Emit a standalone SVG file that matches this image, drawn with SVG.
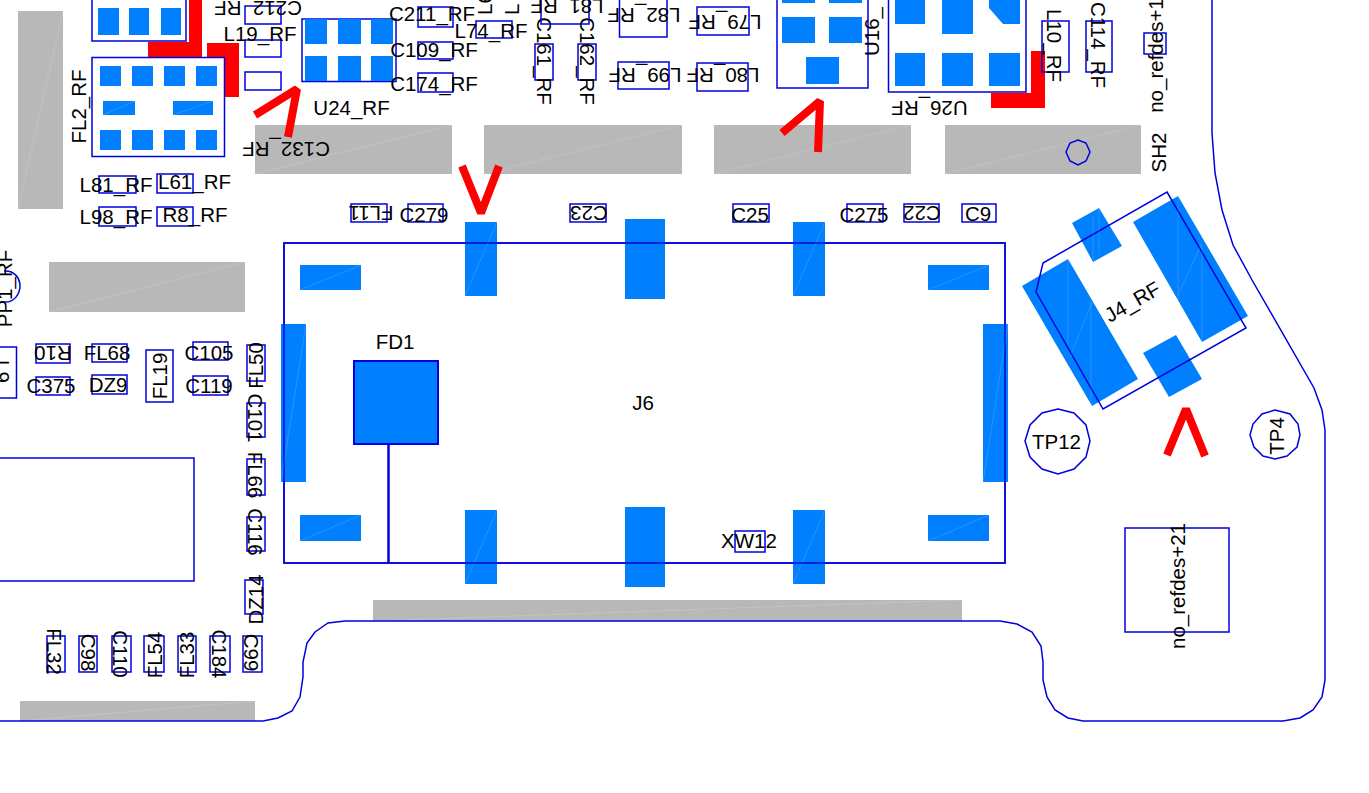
<svg xmlns="http://www.w3.org/2000/svg" width="1369" height="793" viewBox="0 0 1369 793">
<style>
text{font-family:"Liberation Sans",Arial,sans-serif;font-size:20.500px;fill:#000;text-anchor:middle}
.b{fill:none;stroke:#0000e0;stroke-width:1.5}
.p{fill:#0080ff}
.g{fill:#b8b8b8}
.r{fill:none;stroke:#f00;stroke-width:8;stroke-linejoin:bevel}
.s{fill:none;stroke:#fff;stroke-width:.5;opacity:.3}
</style>
<rect width="1369" height="793" fill="#fff"/>
<g id="shields">
<rect class="g" x="18" y="11" width="45" height="198"/><rect class="g" x="255" y="125" width="197" height="49"/><rect class="g" x="484" y="125" width="198" height="49"/><rect class="g" x="714" y="125" width="197" height="49"/><rect class="g" x="945" y="125" width="196" height="49"/><rect class="g" x="49" y="262" width="196" height="50"/><rect class="g" x="373" y="600" width="589" height="21"/><rect class="g" x="20" y="701" width="235" height="20"/>
<path class="s" d="M18 209 63 11M255 174 452 125M484 174 682 125M714 174 911 125M945 174 1141 125M49 312 245 262M373 621 962 600M20 721 255 701"/>
</g>
<g id="connectors">
<path class="b" d="M0 721H263L278 718 292 711 300 697 303 677V662L307 643 315 632 328 623 345 621H1000L1017 624 1032 632 1041 646 1043 662V680L1047 697 1055 710 1068 718 1083 721H1283L1300 718 1313 710 1322 697 1325 680V430L1322 410 1314 388 1252 280 1233 245 1222 210 1215 173 1212 133V0"/>
<path d="M148 42H202V57H148ZM189 0H202V57H189ZM207 43H239V97H225V57H207Z" fill="#f00"/>
<path d="M991 93H1045V108H991ZM1031 51H1045V108H1031Z" fill="#f00"/>
<path class="r" d="M255 115 297 89 288 137"/>
<path class="r" d="M782 133 820 101 818 152"/>
<path class="r" d="M462 166 481 213 499 166"/>
<path class="r" d="M1167 455 1186 409 1205 456"/>
</g>
<g id="J6"><rect class="b" x="284" y="243" width="721" height="320"/>
<rect class="p" x="465" y="222" width="32" height="74"/><rect class="p" x="625" y="219" width="40" height="80"/><rect class="p" x="793" y="222" width="32" height="74"/>
<rect class="p" x="300" y="265" width="61" height="25"/><rect class="p" x="928" y="265" width="61" height="25"/><rect class="p" x="300" y="515" width="61" height="26"/><rect class="p" x="928" y="515" width="61" height="26"/>
<rect class="p" x="281" y="324" width="25" height="158"/><rect class="p" x="983" y="324" width="25" height="158"/>
<rect class="p" x="465" y="510" width="32" height="74"/><rect class="p" x="625" y="507" width="40" height="80"/><rect class="p" x="793" y="510" width="32" height="74"/>
<path class="b" d="M284 243H1005V563H284Z"/>
<path class="s" d="M465 296 497 222M793 296 825 222M300 290 361 265M928 290 989 265M300 541 361 515M928 541 989 515M281 482 306 324M983 482 1008 324M465 584 497 510M793 584 825 510"/>
<text x="643" y="410">J6</text></g>
<g id="FD1"><rect class="p" x="354" y="361" width="84" height="83" stroke="#0000e0" stroke-width="2"/><path d="M388.500 444V563" stroke="#0000e0" stroke-width="2.500" fill="none"/><text x="395" y="349">FD1</text></g>
<g id="XW12"><rect class="b" x="735" y="531" width="30" height="21"/><text x="749" y="548">XW12</text></g>
<g id="U-top-left"><path class="b" d="M92 0V41H186V0"/><rect class="p" x="98" y="8" width="21" height="27"/><rect class="p" x="129" y="8" width="20" height="27"/><rect class="p" x="161" y="8" width="20" height="27"/></g>
<g id="FL2_RF"><rect class="b" x="92" y="57.500" width="132.500" height="99"/>
<rect class="p" x="100" y="66" width="21" height="20"/><rect class="p" x="132" y="66" width="21" height="20"/><rect class="p" x="164" y="66" width="21" height="20"/><rect class="p" x="196" y="66" width="21" height="20"/>
<rect class="p" x="103" y="101" width="32" height="14"/><rect class="p" x="173" y="101" width="40" height="14"/>
<rect class="p" x="100" y="130" width="21" height="20"/><rect class="p" x="132" y="130" width="21" height="20"/><rect class="p" x="164" y="130" width="21" height="20"/><rect class="p" x="196" y="130" width="21" height="20"/>
<path class="s" d="M103 115 135 101M173 115 213 101"/>
<text transform="translate(86 106.500) rotate(-90)">FL2_RF</text></g>
<g id="U24_RF"><rect class="b" x="302" y="19" width="94" height="62.500"/>
<rect class="p" x="305" y="19" width="22" height="25"/><rect class="p" x="338" y="19" width="23" height="25"/><rect class="p" x="371" y="19" width="22" height="25"/><rect class="p" x="305" y="56" width="22" height="25"/><rect class="p" x="338" y="56" width="23" height="25"/><rect class="p" x="371" y="56" width="22" height="25"/>
<text x="351.500" y="115">U24_RF</text></g>
<g id="U16_"><path class="b" d="M777 0V88H868V0"/><rect class="p" x="782" y="0" width="33" height="3"/><rect class="p" x="829" y="0" width="33" height="3"/><rect class="p" x="782" y="17" width="33" height="26"/><rect class="p" x="829" y="17" width="33" height="26"/><rect class="p" x="806" y="57" width="33" height="27"/>
<text transform="translate(879 31.500) rotate(-90)">U16_</text></g>
<g id="U26_RF"><path class="b" d="M888.500 0V92H1026V0"/><rect class="p" x="895" y="0" width="30" height="24"/><rect class="p" x="942" y="0" width="31" height="34"/><path class="p" d="M989 0H1020V24H1003L989 8Z"/><rect class="p" x="895" y="53" width="30" height="33"/><rect class="p" x="942" y="53" width="31" height="33"/><rect class="p" x="989" y="53" width="31" height="33"/>
<text transform="translate(929.500 101) rotate(180)">U26_RF</text></g>
<g id="J4_RF"><path class="p" d="M1022 286 1068 259 1138 379 1092 406ZM1072 223 1099 208 1122 246 1093 262ZM1133 222 1178 196 1248 316 1202 342ZM1143 353 1176 335 1202 379 1169 397Z"/>
<path class="b" d="M1167 192 1246 328 1103 409 1036 292 1043 263Z"/>
<path class="s" d="M1068 259V345M1091 302V406M1070 357 1092 302M1178 196V300M1202 245V342M1178 295 1202 243M1093 216V262M1099 208V255"/>
<text transform="translate(1136 308) rotate(-30)">J4_RF</text></g>
<g id="TP12"><path class="b" d="M1058 409 1074 413 1086 425 1090 441 1086 457 1074 469 1058 474 1042 469 1030 457 1025 441 1030 425 1042 413Z"/><text x="1056.500" y="449">TP12</text></g>
<g id="TP4"><path class="b" d="M1275 410 1290 414 1298 424 1300 435 1297 447 1287 456 1275 459 1263 456 1254 447 1250 435 1253 424 1262 414Z"/><text transform="translate(1284 436) rotate(-90)">TP4</text></g>
<g id="no_refdes21"><rect class="b" x="1125" y="528" width="104" height="104"/><text transform="translate(1185 586) rotate(-90)">no_refdes+21</text></g>
<g id="SH2"><path class="b" d="M1078 140 1086 143 1090 152 1086 161 1078 165 1070 161 1066 152 1070 143Z"/><text transform="translate(1166 152.500) rotate(-90)">SH2</text></g>
<g id="PP1_RF"><path class="b" d="M4 271C14 270 20 278 20 286 20 294 14 303 4 302"/><text transform="translate(12 288.500) rotate(-90)">PP1_RF</text></g>
<g id="no_refdes1"><rect class="b" x="1144" y="33" width="22" height="21"/><text transform="translate(1163 55.500) rotate(-90)">no_refdes+1</text></g>
<g id="C212_RF"><rect class="b" x="245" y="6" width="36" height="18"/><text transform="translate(258 1) rotate(180)">C212_RF</text></g>
<g id="L19_RF"><rect class="b" x="245" y="40" width="36" height="17"/><text x="260" y="41">L19_RF</text></g>
<g id="blank"><rect class="b" x="245" y="72" width="36" height="18"/></g>
<g id="C132_RF"><text transform="translate(286 142) rotate(180)">C132_RF</text></g>
<g id="C211_RF"><rect class="b" x="418" y="7" width="35" height="20"/><text x="432" y="21">C211_RF</text></g>
<g id="C109_RF"><rect class="b" x="418" y="42" width="35" height="17"/><text x="434" y="57">C109_RF</text></g>
<g id="C174_RF"><rect class="b" x="418" y="73" width="35" height="19"/><text x="434" y="91">C174_RF</text></g>
<g id="L74_RF"><rect class="b" x="476" y="21" width="36" height="17"/><text x="491" y="38">L74_RF</text></g>
<g id="L81_RF"><rect class="b" x="99" y="176" width="37" height="17"/><text x="116" y="192">L81_RF</text></g>
<g id="L61_RF"><rect class="b" x="157" y="174" width="36" height="19"/><text x="194.500" y="189">L61_RF</text></g>
<g id="L98_RF"><rect class="b" x="99" y="207" width="37" height="19"/><text x="116" y="224">L98_RF</text></g>
<g id="R8_RF"><rect class="b" x="157" y="207" width="36" height="19"/><text x="195" y="222">R8_RF</text></g>
<g id="FL11"><rect class="b" x="351" y="204" width="36" height="18"/><text transform="translate(371 206) rotate(180)">FL11</text></g>
<g id="C279"><rect class="b" x="408" y="204" width="35" height="18"/><text x="424" y="222">C279</text></g>
<g id="C23"><rect class="b" x="570" y="204" width="36" height="18"/><text transform="translate(589 206) rotate(180)">C23</text></g>
<g id="C25"><rect class="b" x="733" y="204" width="36" height="18"/><text x="750" y="222">C25</text></g>
<g id="C275"><rect class="b" x="847" y="204" width="36" height="18"/><text x="864" y="222">C275</text></g>
<g id="C22"><rect class="b" x="904" y="204" width="35" height="18"/><text transform="translate(922 206) rotate(180)">C22</text></g>
<g id="C9"><rect class="b" x="962" y="204" width="34" height="18"/><text x="978" y="221">C9</text></g>
<g id="C161_RF"><rect class="b" x="535" y="44" width="18" height="36"/><text transform="translate(536.500 61) rotate(90)">C161_RF</text></g>
<g id="C162_RF"><rect class="b" x="578" y="44" width="18" height="36"/><text transform="translate(579.500 61) rotate(90)">C162_RF</text></g>
<g id="L6"><text transform="translate(492 15) rotate(-90)" style="text-anchor:start">L6</text></g>
<g id="L"><text transform="translate(519 15) rotate(-90)" style="text-anchor:start">L</text></g>
<g id="L81_top"><path class="b" d="M541 0V24H589V0"/><text transform="translate(567 -1) rotate(180)">L81_RF</text></g>
<g id="L82_RF"><path class="b" d="M619.500 0V37H667V0"/><text transform="translate(644 8) rotate(180)">L82_RF</text></g>
<g id="L79_RF"><rect class="b" x="697" y="7" width="52" height="28"/><text transform="translate(725 15) rotate(180)">L79_RF</text></g>
<g id="L99_RF"><rect class="b" x="618" y="62" width="51" height="27"/><text transform="translate(645 68) rotate(180)">L99_RF</text></g>
<g id="L80_RF"><rect class="b" x="697" y="63" width="51" height="28"/><text transform="translate(723 68) rotate(180)">L80_RF</text></g>
<g id="L10_RF"><rect class="b" x="1042" y="21" width="27" height="51"/><text transform="translate(1047 45.500) rotate(90)">L10_RF</text></g>
<g id="C114_RF"><rect class="b" x="1086" y="21" width="26" height="51"/><text transform="translate(1091 45) rotate(90)">C114_RF</text></g>
<g id="R10"><rect class="b" x="36" y="344" width="34" height="19"/><text transform="translate(53 346) rotate(180)">R10</text></g>
<g id="FL68"><rect class="b" x="92" y="344" width="35" height="18"/><text x="107" y="360">FL68</text></g>
<g id="C105"><rect class="b" x="193" y="342" width="35" height="18"/><text x="209" y="360">C105</text></g>
<g id="C375"><rect class="b" x="36" y="377" width="34" height="18"/><text x="51" y="393">C375</text></g>
<g id="DZ9"><rect class="b" x="92" y="375" width="35" height="19"/><text x="108" y="392">DZ9</text></g>
<g id="C119"><rect class="b" x="193" y="376" width="35" height="19"/><text x="209" y="393">C119</text></g>
<g id="FL19"><rect class="b" x="146" y="350" width="27" height="52"/><text transform="translate(167 376) rotate(-90)">FL19</text></g>
<g id="L9"><path class="b" d="M-2 347H16.500V398H-2"/><text transform="translate(-5 371.500) rotate(90)">L9</text></g>
<g id="bigbox"><path class="b" d="M0 458H194V581H0"/></g>
<g id="FL50"><rect class="b" x="247" y="345" width="18" height="36"/><text transform="translate(263 365.500) rotate(-90)">FL50</text></g>
<g id="C101"><rect class="b" x="247" y="403" width="18" height="34"/><text transform="translate(247.500 418) rotate(90)">C101</text></g>
<g id="FL66"><rect class="b" x="247" y="459" width="18" height="36"/><text transform="translate(247.500 475) rotate(90)">FL66</text></g>
<g id="C116"><rect class="b" x="247" y="517" width="18" height="34"/><text transform="translate(247.500 532) rotate(90)">C116</text></g>
<g id="DZ14"><rect class="b" x="245" y="580" width="18" height="34"/><text transform="translate(263 599.500) rotate(-90)">DZ14</text></g>
<g id="FL32"><rect class="b" x="47" y="636" width="18" height="36"/><text transform="translate(47 651.500) rotate(90)">FL32</text></g>
<g id="C98"><rect class="b" x="79" y="636" width="18" height="36"/><text transform="translate(81 652.500) rotate(90)">C98</text></g>
<g id="C110"><rect class="b" x="112" y="636" width="19" height="36"/><text transform="translate(113 654) rotate(90)">C110</text></g>
<g id="FL54"><rect class="b" x="144" y="636" width="20" height="36"/><text transform="translate(162 655) rotate(-90)">FL54</text></g>
<g id="FL33"><rect class="b" x="178" y="636" width="18" height="36"/><text transform="translate(194 655) rotate(-90)">FL33</text></g>
<g id="C184"><rect class="b" x="210" y="636" width="20" height="36"/><text transform="translate(212 654) rotate(90)">C184</text></g>
<g id="C99"><rect class="b" x="243" y="636" width="19" height="36"/><text transform="translate(244 652.500) rotate(90)">C99</text></g>
</svg>
